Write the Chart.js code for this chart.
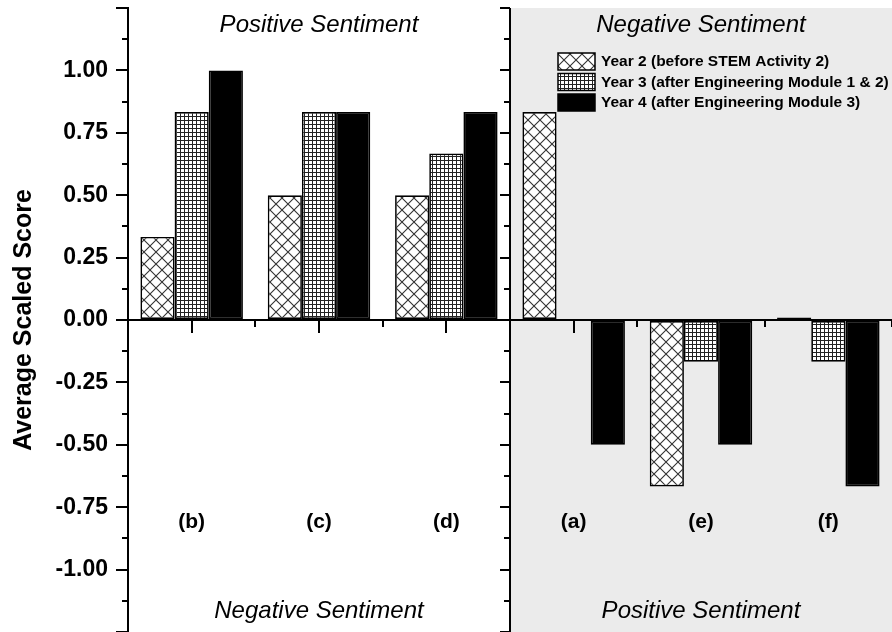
<!DOCTYPE html>
<html>
<head>
<meta charset="utf-8">
<title>Average Scaled Score</title>
<style>
  html, body { margin: 0; padding: 0; background: #fff; }
  #wrap { width: 892px; height: 632px; overflow: hidden; }
</style>
<script src="https://cdn.jsdelivr.net/npm/chart.js@4.4.1/dist/chart.umd.min.js"></script>
</head>
<body>
<div id="wrap"><canvas id="chart" width="892" height="632"></canvas></div>
<script>
// ===== DATA =====
const categories = ["(b)", "(c)", "(d)", "(a)", "(e)", "(f)"];
const seriesNames = [
  "Year 2 (before STEM Activity 2)",
  "Year 3 (after Engineering Module 1 & 2)",
  "Year 4 (after Engineering Module 3)"
];
const year2 = [0.333, 0.5, 0.5, 0.833, -0.667, 0.01];
const year3 = [0.833, 0.833, 0.667, 0, -0.167, -0.167];
const year4 = [1.0, 0.833, 0.833, -0.5, -0.5, -0.667];
const yMin = -1.25;
const yMax = 1.25;
const yStep = 0.25;
const topLabels = ["Positive Sentiment", "Negative Sentiment"];
const bottomLabels = ["Negative Sentiment", "Positive Sentiment"];

const FONT = "'Liberation Sans', Arial, Helvetica, sans-serif";
Chart.defaults.font.family = FONT;
Chart.defaults.color = "#000";

// ===== PATTERNS =====
function crossPattern() {
  const c = document.createElement("canvas");
  c.width = 12; c.height = 12;
  const g = c.getContext("2d");
  g.fillStyle = "#fff";
  g.fillRect(0, 0, 12, 12);
  g.strokeStyle = "#333";
  g.lineWidth = 1.1;
  g.beginPath();
  g.moveTo(-1, -1); g.lineTo(13, 13);
  g.moveTo(13, -1); g.lineTo(-1, 13);
  g.stroke();
  return g.createPattern(c, "repeat");
}

function gridPattern() {
  const c = document.createElement("canvas");
  c.width = 4; c.height = 4;
  const g = c.getContext("2d");
  g.fillStyle = "#fff";
  g.fillRect(0, 0, 4, 4);
  g.fillStyle = "#222";
  g.fillRect(0, 0, 4, 1);
  g.fillRect(0, 0, 1, 4);
  return g.createPattern(c, "repeat");
}

const fills = [crossPattern(), gridPattern(), "#000"];

// split between the left group and the shaded right group
function splitX(chart) {
  const x = chart.scales.x;
  return (x.getPixelForValue(2) + x.getPixelForValue(3)) / 2;
}

// ===== PLUGIN: shading, extra axis, texts, legend =====
const decor = {
  id: "decor",
  beforeDraw(chart) {
    const { ctx, chartArea } = chart;
    const sx = splitX(chart);
    ctx.save();
    ctx.fillStyle = "#ebebeb";
    ctx.fillRect(sx, chartArea.top, chartArea.right - sx, chartArea.bottom - chartArea.top);
    ctx.restore();
  },
  afterDraw(chart) {
    const { ctx, chartArea } = chart;
    const xs = chart.scales.x;
    const ys = chart.scales.y;
    const sx = splitX(chart);
    const y0 = ys.getPixelForValue(0);
    ctx.save();
    ctx.strokeStyle = "#000";
    ctx.lineWidth = 2;

    // middle axis line with ticks pointing left
    ctx.beginPath();
    ctx.moveTo(sx, chartArea.top);
    ctx.lineTo(sx, chartArea.bottom);
    for (let v = yMin; v <= yMax + 1e-9; v += yStep / 2) {
      const py = Math.round(ys.getPixelForValue(v));
      const major = Math.abs(v / yStep - Math.round(v / yStep)) < 1e-6;
      ctx.moveTo(sx, py);
      ctx.lineTo(sx - (major ? 10 : 6), py);
    }
    ctx.stroke();

    // minor ticks on the left axis
    ctx.beginPath();
    for (let v = yMin + yStep / 2; v < yMax; v += yStep) {
      const py = Math.round(ys.getPixelForValue(v));
      ctx.moveTo(chartArea.left, py);
      ctx.lineTo(chartArea.left - 6, py);
    }
    // minor ticks on the x axis, between the groups
    for (let i = 0; i < categories.length; i++) {
      const px = Math.round(xs.getPixelForValue(i) + (xs.getPixelForValue(1) - xs.getPixelForValue(0)) / 2);
      ctx.moveTo(px, y0);
      ctx.lineTo(px, y0 + 7);
    }
    ctx.stroke();

    // category labels
    ctx.fillStyle = "#000";
    ctx.font = "bold 21px " + FONT;
    ctx.textAlign = "center";
    ctx.textBaseline = "middle";
    const ly = ys.getPixelForValue(-0.81);
    categories.forEach((c, i) => ctx.fillText(c, xs.getPixelForValue(i), ly));

    // sentiment captions
    ctx.font = "italic 24px " + FONT;
    ctx.textBaseline = "alphabetic";
    const leftMid = (chartArea.left + sx) / 2;
    const rightMid = (sx + chartArea.right) / 2;
    ctx.fillText(topLabels[0], leftMid, chartArea.top + 24);
    ctx.fillText(topLabels[1], rightMid, chartArea.top + 24);
    ctx.fillText(bottomLabels[0], leftMid, chartArea.bottom - 14);
    ctx.fillText(bottomLabels[1], rightMid, chartArea.bottom - 14);

    // legend
    ctx.font = "bold 15.5px " + FONT;
    ctx.textAlign = "left";
    ctx.textBaseline = "middle";
    ctx.lineWidth = 1.5;
    chart.data.datasets.forEach((ds, i) => {
      const top = 53 + i * 20.5;
      ctx.fillStyle = ds.backgroundColor;
      ctx.fillRect(558, top, 37, 17);
      ctx.strokeRect(558, top, 37, 17);
      ctx.fillStyle = "#000";
      ctx.fillText(ds.label, 601, top + 9);
    });
    ctx.restore();
  }
};

// ===== CHART =====
const barStyle = {
  borderColor: "#000",
  borderWidth: 1.7,
  borderSkipped: false,
  categoryPercentage: 0.805,
  barPercentage: 1.0
};

new Chart(document.getElementById("chart"), {
  type: "bar",
  data: {
    labels: categories,
    datasets: [
      { label: seriesNames[0], data: year2, backgroundColor: fills[0], ...barStyle },
      { label: seriesNames[1], data: year3, backgroundColor: fills[1], ...barStyle },
      { label: seriesNames[2], data: year4, backgroundColor: fills[2], ...barStyle }
    ]
  },
  options: {
    responsive: false,
    animation: false,
    devicePixelRatio: 1,
    layout: { padding: { top: 8, left: 0, right: 0, bottom: 0 } },
    plugins: {
      legend: { display: false },
      tooltip: { enabled: false }
    },
    scales: {
      x: {
        position: { y: 0 },
        offset: true,
        z: 1,
        ticks: { display: false },
        grid: { offset: false, drawOnChartArea: false, tickLength: 12, color: "#000", lineWidth: 2 },
        border: { color: "#000", width: 2 }
      },
      y: {
        min: yMin,
        max: yMax,
        afterFit(s) {
          s.width = 128;
          s.paddingTop = 0;
          s.paddingBottom = 0;
        },
        ticks: {
          stepSize: yStep,
          padding: 8,
          color: "#000",
          font: { size: 23, weight: "bold" },
          callback: (v) => (Math.abs(v) > 1.1 ? "" : Number(v).toFixed(2))
        },
        grid: { drawOnChartArea: false, tickLength: 12, color: "#000", lineWidth: 2 },
        border: { color: "#000", width: 2 },
        title: {
          display: true,
          text: "Average Scaled Score",
          color: "#000",
          font: { size: 25, weight: "bold" },
          padding: { top: 9, bottom: 0 }
        }
      }
    }
  },
  plugins: [decor]
});
</script>
</body>
</html>
